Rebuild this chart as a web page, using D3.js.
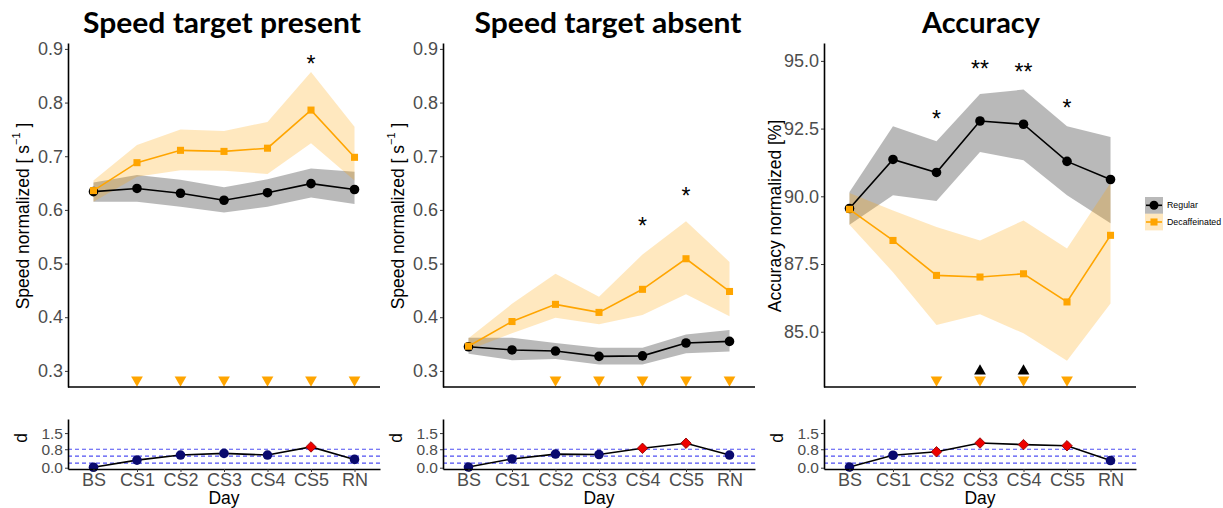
<!DOCTYPE html>
<html>
<head>
<meta charset="utf-8">
<script src="https://cdnjs.cloudflare.com/ajax/libs/d3/7.8.5/d3.min.js"></script>
<style>
  body { margin: 0; background: #fff; }
  text { font-family: "Liberation Sans", Arial, sans-serif; }
  .tick text { fill: #4d4d4d; font-size: 18px; }
  .daxis .tick text { font-size: 15.5px; }
  .title { font-family: Lato, "Open Sans", sans-serif; font-weight: bold; font-size: 29px; }
</style>
</head>
<body>
<div id="chart"></div>
<script>
// days on the x axis
let days = ['BS', 'CS1', 'CS2', 'CS3', 'CS4', 'CS5', 'RN'];

// Speed target present
let presRegMean = [0.634, 0.640, 0.631, 0.618, 0.632, 0.649, 0.638];
let presRegLo   = [0.615, 0.615, 0.606, 0.595, 0.606, 0.623, 0.611];
let presRegHi   = [0.651, 0.665, 0.656, 0.642, 0.657, 0.677, 0.671];
let presDecMean = [0.636, 0.688, 0.711, 0.709, 0.715, 0.786, 0.698];
let presDecLo   = [0.615, 0.662, 0.674, 0.673, 0.667, 0.724, 0.655];
let presDecHi   = [0.655, 0.721, 0.750, 0.747, 0.764, 0.857, 0.755];
let presD       = [0.02, 0.33, 0.55, 0.62, 0.55, 0.90, 0.36];
let presSig     = [0, 0, 0, 0, 0, 1, 0];
let presStars   = [{day: 'CS5', y: 0.880, label: '*'}];
let presDecDown = ['CS1', 'CS2', 'CS3', 'CS4', 'CS5', 'RN'];
let presRegUp   = [];

// Speed target absent
let absRegMean = [0.345, 0.339, 0.337, 0.327, 0.328, 0.352, 0.355];
let absRegLo   = [0.332, 0.320, 0.322, 0.312, 0.312, 0.333, 0.336];
let absRegHi   = [0.362, 0.362, 0.352, 0.343, 0.343, 0.368, 0.376];
let absDecMean = [0.346, 0.392, 0.424, 0.409, 0.452, 0.509, 0.448];
let absDecLo   = [0.339, 0.370, 0.399, 0.387, 0.404, 0.443, 0.402];
let absDecHi   = [0.361, 0.425, 0.481, 0.438, 0.517, 0.579, 0.503];
let absD       = [0.03, 0.38, 0.59, 0.57, 0.84, 1.06, 0.55];
let absSig     = [0, 0, 0, 0, 1, 1, 0];
let absStars   = [{day: 'CS4', y: 0.578, label: '*'}, {day: 'CS5', y: 0.634, label: '*'}];
let absDecDown = ['CS2', 'CS3', 'CS4', 'CS5', 'RN'];
let absRegUp   = [];

// Accuracy
let accRegMean = [89.55, 91.36, 90.88, 92.78, 92.66, 91.29, 90.62];
let accRegLo   = [88.95, 90.04, 89.83, 91.64, 91.33, 90.04, 89.01];
let accRegHi   = [90.16, 92.59, 92.03, 93.78, 93.94, 92.59, 92.19];
let accDecMean = [89.52, 88.37, 87.08, 87.02, 87.14, 86.10, 88.56];
let accDecLo   = [88.95, 87.20, 85.25, 85.65, 84.94, 83.93, 86.04];
let accDecHi   = [90.12, 89.48, 88.87, 88.37, 89.11, 88.07, 90.49];
let accD       = [0.03, 0.54, 0.69, 1.07, 1.00, 0.95, 0.31];
let accSig     = [0, 0, 1, 1, 1, 1, 0];
let accStars   = [{day: 'CS2', y: 92.99, label: '*'}, {day: 'CS3', y: 94.84, label: '**'},
                  {day: 'CS4', y: 94.72, label: '**'}, {day: 'CS5', y: 93.40, label: '*'}];
let accDecDown = ['CS2', 'CS3', 'CS4', 'CS5'];
let accRegUp   = ['CS3', 'CS4'];

// tick labels
let speedTicks = [0.3, 0.4, 0.5, 0.6, 0.7, 0.8, 0.9];
let accTicks   = [85.0, 87.5, 90.0, 92.5, 95.0];
let dTicks     = [0.0, 0.8, 1.5];
let dThresholds = [0.2, 0.5, 0.8];

let legendLabels = ['Regular', 'Decaffeinated'];

//Step 1: Setup the svg
let svgWidth = 1223;
let svgHeight = 508;
let plotW = 312;
let mainTop = 43, mainBottom = 387;
let dTop = 419, dBottom = 469;

let orange = '#FFA500';

let svg = d3.select('#chart')
  .append('svg')
  .attr('width', svgWidth)
  .attr('height', svgHeight);

let panels = [
  {left: 68, titleX: 222, titleW: 278, title: 'Speed target present', domain: [0.270, 0.911], ticks: speedTicks,
   reg: [presRegMean, presRegLo, presRegHi], dec: [presDecMean, presDecLo, presDecHi],
   d: presD, sig: presSig, stars: presStars, down: presDecDown, up: presRegUp, ylab: 'speed', labOff: 45},
  {left: 443, titleX: 608, titleW: 267, title: 'Speed target absent', domain: [0.270, 0.911], ticks: speedTicks,
   reg: [absRegMean, absRegLo, absRegHi], dec: [absDecMean, absDecLo, absDecHi],
   d: absD, sig: absSig, stars: absStars, down: absDecDown, up: absRegUp, ylab: 'speed', labOff: 45},
  {left: 824, titleX: 981, titleW: 118, title: 'Accuracy', domain: [82.96, 95.66], ticks: accTicks,
   reg: [accRegMean, accRegLo, accRegHi], dec: [accDecMean, accDecLo, accDecHi],
   d: accD, sig: accSig, stars: accStars, down: accDecDown, up: accRegUp, ylab: 'acc', labOff: 49}
];

let triangle = d3.symbol().type(d3.symbolTriangle).size(60);
let square = d3.symbol().type(d3.symbolSquare).size(50);

panels.forEach(p => {
  let x = d3.scalePoint().domain(days).range([0, plotW]).padding(0.586);
  let y = d3.scaleLinear().domain(p.domain).range([mainBottom - mainTop, 0]);

  // title
  svg.append('text')
    .attr('class', 'title')
    .attr('x', p.titleX)
    .attr('y', 33)
    .attr('text-anchor', 'middle')
    .attr('textLength', p.titleW)
    .attr('lengthAdjust', 'spacingAndGlyphs')
    .text(p.title);

  let g = svg.append('g').attr('transform', `translate(${p.left},${mainTop})`);

  //Step 2: ribbons
  let area = d3.area()
    .x((d, i) => x(days[i]))
    .y0((d, i) => y(d[0]))
    .y1((d, i) => y(d[1]));
  g.append('path')
    .datum(d3.zip(p.reg[1], p.reg[2]))
    .attr('d', area)
    .attr('fill', '#7f7f7f')
    .attr('fill-opacity', 0.55);
  g.append('path')
    .datum(d3.zip(p.dec[1], p.dec[2]))
    .attr('d', area)
    .attr('fill', orange)
    .attr('fill-opacity', 0.25);

  //Step 3: lines and markers
  let line = d3.line().x((d, i) => x(days[i])).y(d => y(d));
  g.append('path').datum(p.reg[0]).attr('d', line)
    .attr('fill', 'none').attr('stroke', 'black').attr('stroke-width', 1.6);
  g.selectAll('.reg').data(p.reg[0]).enter().append('circle')
    .attr('cx', (d, i) => x(days[i]))
    .attr('cy', d => y(d))
    .attr('r', 4.8)
    .attr('fill', 'black');
  g.append('path').datum(p.dec[0]).attr('d', line)
    .attr('fill', 'none').attr('stroke', orange).attr('stroke-width', 1.6);
  g.selectAll('.dec').data(p.dec[0]).enter().append('path')
    .attr('d', square)
    .attr('transform', (d, i) => `translate(${x(days[i])},${y(d)})`)
    .attr('fill', orange);

  // significance stars
  g.selectAll('.star').data(p.stars).enter().append('text')
    .attr('x', d => x(d.day))
    .attr('y', d => y(d.y) + 12)
    .attr('text-anchor', 'middle')
    .attr('font-size', 23)
    .text(d => d.label);

  // trend triangles near the bottom
  g.selectAll('.down').data(p.down).enter().append('path')
    .attr('d', triangle)
    .attr('transform', d => `translate(${x(d)},${mainBottom - mainTop - 7}) rotate(180)`)
    .attr('fill', orange);
  g.selectAll('.up').data(p.up).enter().append('path')
    .attr('d', triangle)
    .attr('transform', d => `translate(${x(d)},${mainBottom - mainTop - 16})`)
    .attr('fill', 'black');

  //Step 4: axes
  let yAxis = g.append('g')
    .call(d3.axisLeft(y).tickValues(p.ticks).tickFormat(d3.format('.1f')).tickSize(3).tickSizeOuter(0).tickPadding(2));
  yAxis.select('.domain').attr('stroke', 'black').attr('stroke-width', 1.6);
  yAxis.selectAll('.tick line').attr('stroke', '#333');
  yAxis.selectAll('.tick text').attr('font-size', null);

  g.append('line')
    .attr('x1', 0).attr('x2', plotW)
    .attr('y1', mainBottom - mainTop).attr('y2', mainBottom - mainTop)
    .attr('stroke', 'black').attr('stroke-width', 1.6);

  // y label
  let lab = g.append('text')
    .attr('transform', `translate(${-p.labOff},${216 - mainTop}) rotate(-90)`)
    .attr('text-anchor', 'middle')
    .attr('dominant-baseline', 'central')
    .attr('font-size', 17.5);
  if (p.ylab === 'speed') {
    lab.append('tspan').text('Speed normalized  [ s');
    lab.append('tspan').attr('font-size', 11).attr('dy', -7).text('\u22121');
    lab.append('tspan').attr('dy', 7).text(' ]');
  } else {
    lab.text('Accuracy normalized [%]');
  }

  //Step 5: effect size panel
  let yd = d3.scaleLinear().domain([-0.056, 2.11]).range([dBottom - dTop, 0]);
  let gd = svg.append('g').attr('transform', `translate(${p.left},${dTop})`);

  gd.selectAll('.thr').data(dThresholds).enter().append('line')
    .attr('x1', 0).attr('x2', plotW)
    .attr('y1', d => yd(d)).attr('y2', d => yd(d))
    .attr('stroke', '#2222ee')
    .attr('stroke-opacity', 0.8)
    .attr('stroke-width', 1.1)
    .attr('stroke-dasharray', '4,3');

  gd.append('path').datum(p.d)
    .attr('d', d3.line().x((d, i) => x(days[i])).y(d => yd(d)))
    .attr('fill', 'none').attr('stroke', 'black').attr('stroke-width', 1.6);

  gd.selectAll('.dpt').data(p.d).enter().append('path')
    .attr('d', (d, i) => p.sig[i] ? d3.symbol().type(d3.symbolSquare).size(55)() : d3.symbol().type(d3.symbolCircle).size(72)())
    .attr('transform', (d, i) => `translate(${x(days[i])},${yd(d)}) rotate(${p.sig[i] ? 45 : 0})`)
    .attr('fill', (d, i) => p.sig[i] ? '#ee0000' : '#0a0a6e')
    .attr('stroke', (d, i) => p.sig[i] ? '#8b0000' : 'none')
    .attr('stroke-width', 0.8);

  let dAxis = gd.append('g')
    .attr('class', 'daxis')
    .call(d3.axisLeft(yd).tickValues(dTicks).tickFormat(d3.format('.1f')).tickSize(3).tickSizeOuter(0).tickPadding(2));
  dAxis.select('.domain').attr('stroke', 'black').attr('stroke-width', 1.6);
  dAxis.selectAll('.tick line').attr('stroke', '#333');
  dAxis.selectAll('.tick text').attr('font-size', null);

  let xAxis = gd.append('g')
    .attr('transform', `translate(0,${dBottom - dTop})`)
    .call(d3.axisBottom(x).tickSize(3).tickSizeOuter(0).tickPadding(1));
  xAxis.select('.domain').attr('stroke', 'black').attr('stroke-width', 1.6);
  xAxis.selectAll('.tick line').attr('stroke', '#333');
  xAxis.selectAll('.tick text').attr('font-size', null);

  gd.append('text')
    .attr('transform', `translate(${-47},${(dBottom - dTop) / 2 - 6}) rotate(-90)`)
    .attr('text-anchor', 'middle')
    .attr('dominant-baseline', 'central')
    .attr('font-size', 17.5)
    .text('d');

  gd.append('text')
    .attr('x', plotW / 2)
    .attr('y', 504 - dTop)
    .attr('text-anchor', 'middle')
    .attr('font-size', 17.5)
    .text('Day');
});

//Step 6: legend
let legend = svg.append('g').attr('transform', 'translate(1145,197)');
legendLabels.forEach((lbl, i) => {
  let row = legend.append('g').attr('transform', `translate(0,${i * 16.7})`);
  row.append('rect').attr('width', 18).attr('height', 16.7)
    .attr('fill', i === 0 ? '#7f7f7f' : orange)
    .attr('fill-opacity', i === 0 ? 0.55 : 0.25);
  row.append('line').attr('x1', 1).attr('x2', 17).attr('y1', 8.3).attr('y2', 8.3)
    .attr('stroke', i === 0 ? 'black' : orange).attr('stroke-width', 1.6);
  if (i === 0) {
    row.append('circle').attr('cx', 9).attr('cy', 8.3).attr('r', 4.5).attr('fill', 'black');
  } else {
    row.append('path').attr('d', square).attr('transform', 'translate(9,8.3)').attr('fill', orange);
  }
  row.append('text').attr('x', 22).attr('y', 8.3)
    .attr('dominant-baseline', 'central')
    .attr('font-size', 8.8)
    .text(lbl);
});
</script>
</body>
</html>
